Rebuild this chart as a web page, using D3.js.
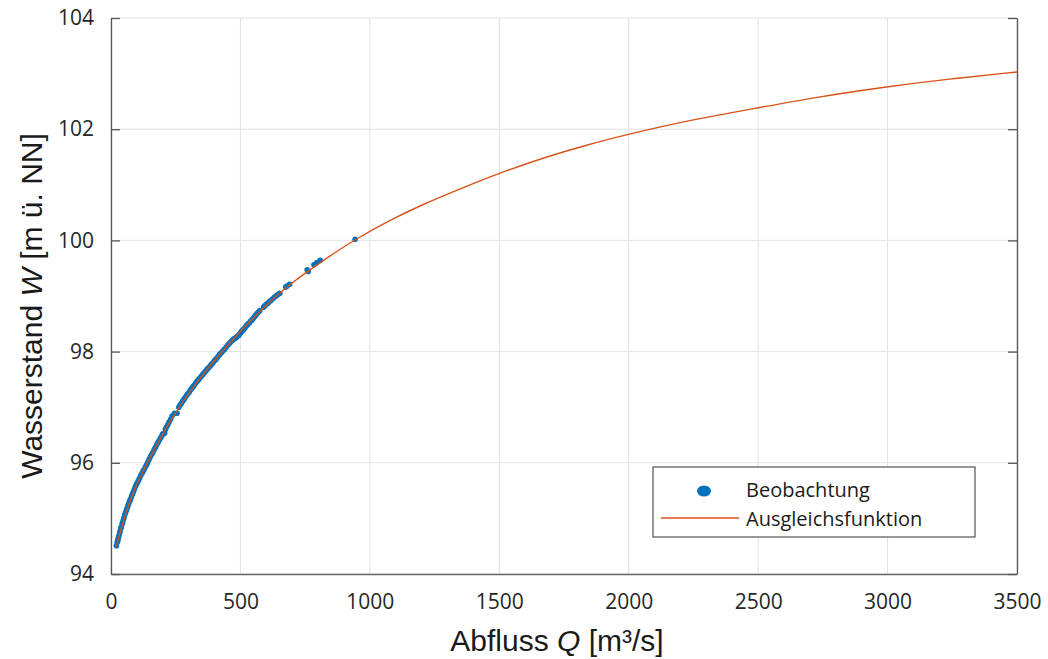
<!DOCTYPE html>
<html>
<head>
<meta charset="utf-8">
<script src="https://cdn.jsdelivr.net/npm/d3@7"></script>
<style>
  body { margin: 0; background: #fff; }
  svg { display: block; }
</style>
</head>
<body>
<svg id="chart"></svg>
<script>
// Ausgleichsfunktion
var fitQ = [20, 55, 94, 145, 236, 326, 429, 474, 584, 693, 848, 944, 1080, 1196, 1350, 1500,
            1686, 1840, 2000, 2200, 2505, 2716, 3006, 3232, 3500];
var fitW = [94.49, 95.09, 95.57, 96.05, 96.83, 97.43, 98.0, 98.23, 98.78, 99.23, 99.73, 100.02,
            100.37, 100.63, 100.93, 101.21, 101.51, 101.72, 101.91, 102.13, 102.39, 102.57,
            102.77, 102.90, 103.03];

// Beobachtung
var obsQ = [21, 24, 26, 28, 30, 33, 35, 38, 40, 43, 45, 48, 50, 53, 56, 59, 62, 65, 68, 72, 75,
            79, 82, 86, 90, 94, 98, 102, 106, 110, 115, 120, 124, 128, 133, 138, 142, 147, 152,
            157, 162, 167, 172, 177, 182, 187, 192, 196, 200, 207, 210, 214, 219, 224, 230, 236,
            245, 255, 262, 267, 272, 277, 282, 287, 292, 297, 302, 307, 312, 317, 322, 328, 333,
            339, 344, 350, 355, 360, 366, 371, 377, 383, 388, 394, 400, 405, 410, 415, 420, 426,
            432, 438, 445, 452, 458, 464, 470, 475, 480, 484, 488, 492, 495, 499, 502, 506, 510,
            514, 518, 522, 526, 530, 535, 540, 545, 550, 555, 560, 565, 570, 575, 590, 595, 600,
            606, 612, 618, 625, 632, 640, 646, 652, 675, 680, 690, 758, 762, 784, 795, 808, 943];
var obsW = [94.51, 94.57, 94.60, 94.64, 94.68, 94.73, 94.77, 94.82, 94.85, 94.90, 94.93, 94.98,
            95.01, 95.06, 95.10, 95.14, 95.18, 95.22, 95.26, 95.31, 95.34, 95.39, 95.43, 95.47,
            95.52, 95.57, 95.61, 95.64, 95.68, 95.72, 95.77, 95.81, 95.85, 95.88, 95.93, 95.97,
            96.01, 96.06, 96.11, 96.15, 96.19, 96.24, 96.28, 96.33, 96.37, 96.41, 96.45, 96.48,
            96.52, 96.53, 96.60, 96.64, 96.68, 96.73, 96.78, 96.84, 96.89, 96.89, 97.00, 97.04,
            97.07, 97.11, 97.14, 97.18, 97.21, 97.24, 97.27, 97.31, 97.34, 97.37, 97.40, 97.44,
            97.47, 97.50, 97.53, 97.56, 97.59, 97.62, 97.65, 97.68, 97.71, 97.74, 97.77, 97.80,
            97.84, 97.86, 97.89, 97.92, 97.95, 97.98, 98.01, 98.04, 98.08, 98.12, 98.15, 98.18,
            98.21, 98.23, 98.24, 98.26, 98.27, 98.29, 98.30, 98.33, 98.35, 98.37, 98.39, 98.41,
            98.43, 98.46, 98.48, 98.50, 98.52, 98.55, 98.57, 98.60, 98.63, 98.66, 98.69, 98.71,
            98.74, 98.80, 98.83, 98.85, 98.87, 98.90, 98.92, 98.95, 98.98, 99.01, 99.03, 99.05,
            99.16, 99.18, 99.21, 99.47, 99.44, 99.56, 99.60, 99.64, 100.02];

var xTicks = [0, 500, 1000, 1500, 2000, 2500, 3000, 3500];
var yTicks = [94, 96, 98, 100, 102, 104];
var legendLabels = ["Beobachtung", "Ausgleichsfunktion"];

var W = 1048, H = 659;
var margin = { top: 18, right: 31, bottom: 85, left: 111 };
var width = W - margin.left - margin.right;
var height = H - margin.top - margin.bottom;

var blue = "#0072bd", orange = "#d95319", axisCol = "#555";

var svg = d3.select("#chart").attr("width", W).attr("height", H);
var g = svg.append("g").attr("transform", "translate(" + margin.left + "," + margin.top + ")");

var x = d3.scaleLinear().domain([0, 3500]).range([0, width]);
var y = d3.scaleLinear().domain([94, 104]).range([height, 0]);

// grid
g.append("g").selectAll("line").data(xTicks).enter().append("line")
    .attr("x1", d => x(d)).attr("x2", d => x(d)).attr("y1", 0).attr("y2", height)
    .attr("stroke", "#e3e3e3").attr("stroke-width", 1);
g.append("g").selectAll("line").data(yTicks).enter().append("line")
    .attr("y1", d => y(d)).attr("y2", d => y(d)).attr("x1", 0).attr("x2", width)
    .attr("stroke", "#e3e3e3").attr("stroke-width", 1);

// axes
var xAxis = g.append("g").attr("transform", "translate(0," + height + ")")
    .call(d3.axisBottom(x).tickValues(xTicks).tickFormat(d3.format("d")).tickSize(0).tickPadding(20));
var yAxis = g.append("g")
    .call(d3.axisLeft(y).tickValues(yTicks).tickSizeInner(-9).tickSizeOuter(0).tickPadding(17));
var yAxisR = g.append("g").attr("transform", "translate(" + width + ",0)")
    .call(d3.axisRight(y).tickValues(yTicks).tickSizeInner(-9).tickSizeOuter(0).tickFormat(""));

[xAxis, yAxis, yAxisR].forEach(function (a) {
    a.select(".domain").attr("stroke", axisCol).attr("stroke-width", 1.3);
    a.selectAll(".tick line").attr("stroke", axisCol).attr("stroke-width", 1.3);
    a.selectAll("text").attr("fill", "#262626")
        .style("font-family", "'Open Sans', sans-serif").style("font-size", "21px");
});
xAxis.select(".domain").attr("stroke", "#6a6a6a");

// observations
g.append("g").selectAll("circle").data(obsQ).enter().append("circle")
    .attr("cx", (d, i) => x(d)).attr("cy", (d, i) => y(obsW[i]))
    .attr("r", 2.8).attr("fill", blue);

// fit line
var line = d3.line().x(d => x(d[0])).y(d => y(d[1])).curve(d3.curveBasis);
g.append("path").datum(fitQ.map((q, i) => [q, fitW[i]]))
    .attr("d", line).attr("fill", "none").attr("stroke", orange).attr("stroke-width", 1.4);

// axis titles
svg.append("text")
    .attr("x", margin.left + width / 2 - 7).attr("y", 651)
    .attr("text-anchor", "middle")
    .style("font-family", "'Liberation Sans', Arial, sans-serif").style("font-size", "30px")
    .attr("fill", "#1a1a1a")
    .html("Abfluss <tspan font-style='italic'>Q</tspan> [m³/s]");

svg.append("text")
    .attr("transform", "translate(42," + 306 + ") rotate(-90)")
    .attr("text-anchor", "middle")
    .style("font-family", "'Liberation Sans', Arial, sans-serif").style("font-size", "30px")
    .attr("fill", "#1a1a1a")
    .html("Wasserstand <tspan font-style='italic'>W</tspan> [m ü. NN]");

// legend
var leg = svg.append("g").attr("transform", "translate(653,467)");
leg.append("rect").attr("width", 322).attr("height", 70)
    .attr("fill", "#fff").attr("stroke", "#333").attr("stroke-width", 1);
leg.append("ellipse").attr("cx", 51).attr("cy", 24).attr("rx", 7).attr("ry", 5.5).attr("fill", blue);
leg.append("line").attr("x1", 8).attr("x2", 86).attr("y1", 51).attr("y2", 51)
    .attr("stroke", orange).attr("stroke-width", 1.4);
leg.selectAll("text.lab").data(legendLabels).enter().append("text")
    .attr("class", "lab")
    .attr("x", 93).attr("y", (d, i) => 30 + i * 29)
    .style("font-family", "'Open Sans', sans-serif").style("font-size", "20px")
    .attr("fill", "#1a1a1a")
    .text(d => d);
</script>
</body>
</html>
